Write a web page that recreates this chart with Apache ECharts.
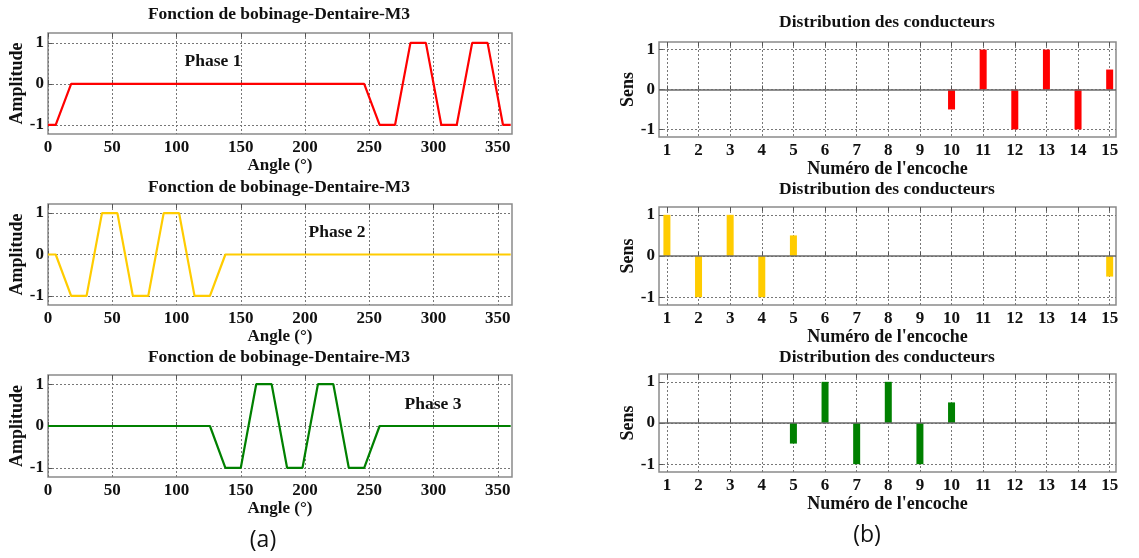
<!DOCTYPE html>
<html>
<head>
<meta charset="utf-8">
<script src="https://cdn.jsdelivr.net/npm/echarts@6/dist/echarts.min.js"></script>
<style>
html,body{margin:0;padding:0;background:#fff;}
#c{width:1139px;height:558px;}
</style>
</head>
<body>
<div id="c"></div>
<script>
// ---- data ----
const angles1 = [0, 6, 18, 246, 258, 270, 282, 294, 306, 318, 330, 342, 354, 360];
const amp1    = [-1, -1, 0, 0, -1, -1, 1, 1, -1, -1, 1, 1, -1, -1];
const angles2 = [0, 6, 18, 30, 42, 54, 66, 78, 90, 102, 114, 126, 138, 360];
const amp2    = [0, 0, -1, -1, 1, 1, -1, -1, 1, 1, -1, -1, 0, 0];
const angles3 = [0, 126, 138, 150, 162, 174, 186, 198, 210, 222, 234, 246, 258, 360];
const amp3    = [0, 0, -1, -1, 1, 1, -1, -1, 1, 1, -1, -1, 0, 0];

const slots = [1, 2, 3, 4, 5, 6, 7, 8, 9, 10, 11, 12, 13, 14, 15];
const sens1 = [0, 0, 0, 0, 0, 0, 0, 0, 0, -0.5, 1, -1, 1, -1, 0.5];
const sens2 = [1, -1, 1, -1, 0.5, 0, 0, 0, 0, 0, 0, 0, 0, 0, -0.5];
const sens3 = [0, 0, 0, 0, -0.5, 1, -1, 1, -1, 0.5, 0, 0, 0, 0, 0];

const angleTicks = [0, 50, 100, 150, 200, 250, 300, 350];
const ampTicks = [-1, 0, 1];
const slotTicks = slots;

const phaseNames = ['Phase 1', 'Phase 2', 'Phase 3'];
const colors = ['#ff0000', '#ffcc00', '#008000'];
const leftTitle = 'Fonction de bobinage-Dentaire-M3';
const rightTitle = 'Distribution des conducteurs';

// ---- layout ----
const FONT = '"Liberation Serif", "DejaVu Serif", serif';
const leftGrids = [
  {left: 48, width: 464, top: 33, height: 101},
  {left: 48, width: 464, top: 204, height: 101},
  {left: 48, width: 464, top: 375, height: 102}
];
const rightGrids = [
  {left: 659, width: 457, top: 42, height: 95},
  {left: 659, width: 457, top: 207, height: 98},
  {left: 659, width: 457, top: 374, height: 98}
];
const leftTitleCenters = [14.5, 187, 357];
const rightTitleCenters = [22.5, 189, 357];
const phasePos = [[213, 61], [337, 232], [433, 404]];
const TITLE_SIZE = 17.5, PHASE_SIZE = 17.5, SUB_SIZE = 23;

const gridStyle = {show: true, borderColor: '#8a8a8a', borderWidth: 1.5, backgroundColor: '#fff'};
const split = {show: true, lineStyle: {type: [2, 2], color: '#777', width: 1}};
const tick = {show: true, inside: true, length: 4, lineStyle: {color: '#555', width: 1}};
const lbl = {fontFamily: FONT, fontWeight: 'bold', fontSize: 17, color: '#111'};

const grids = [], xAxes = [], yAxes = [], series = [], titles = [];

function pairs(xs, ys) { return xs.map((x, i) => [x, ys[i]]); }
function topAxis(gi, min, max, ticks) {
  return {
    type: 'value', gridIndex: gi, position: 'top', min: min, max: max,
    axisLine: {show: false},
    axisTick: Object.assign({customValues: ticks}, tick),
    axisLabel: {show: false}, splitLine: {show: false}
  };
}

const angleData = [[angles1, amp1], [angles2, amp2], [angles3, amp3]];
const sensData = [sens1, sens2, sens3];

for (let i = 0; i < 3; i++) {
  // left
  grids.push(Object.assign({}, leftGrids[i], gridStyle));
  const gi = grids.length - 1;
  const xi = xAxes.length;
  xAxes.push({
    type: 'value', gridIndex: gi, min: 0, max: 361,
    axisLine: {show: false},
    axisTick: Object.assign({customValues: angleTicks}, tick),
    axisLabel: Object.assign({customValues: angleTicks, margin: 5}, lbl),
    splitLine: split,
    name: 'Angle (°)', nameLocation: 'middle', nameGap: 21,
    nameTextStyle: {fontFamily: FONT, fontWeight: 'bold', fontSize: 17, color: '#111'}
  });
  xAxes.push(topAxis(gi, 0, 361, angleTicks));
  const yMin = [-1.22, -1.22, -1.22][i], yMax = [1.24, 1.22, 1.22][i];
  yAxes.push({
    type: 'value', gridIndex: gi, min: yMin, max: yMax,
    axisLine: {show: false},
    axisTick: Object.assign({customValues: ampTicks}, tick),
    axisLabel: Object.assign({customValues: ampTicks, margin: 4}, lbl),
    splitLine: split,
    name: 'Amplitude', nameLocation: 'middle', nameGap: 19, nameRotate: 90,
    nameTextStyle: {fontFamily: FONT, fontWeight: 'bold', fontSize: 18, color: '#111'}
  });
  series.push({
    type: 'line', xAxisIndex: xi, yAxisIndex: gi,
    data: pairs(angleData[i][0], angleData[i][1]),
    showSymbol: false, symbol: 'none',
    lineStyle: {color: colors[i], width: 2.2}, itemStyle: {color: colors[i]},
    animation: false, z: 3
  });
  titles.push({
    text: leftTitle, left: 279, top: leftTitleCenters[i] - TITLE_SIZE / 2, textAlign: 'center', padding: 0,
    textStyle: {fontFamily: FONT, fontWeight: 'bold', fontSize: TITLE_SIZE, color: '#111'}
  });
  titles.push({
    text: phaseNames[i], left: phasePos[i][0], top: phasePos[i][1] - PHASE_SIZE / 2, textAlign: 'center', padding: 0,
    textStyle: {fontFamily: FONT, fontWeight: 'bold', fontSize: PHASE_SIZE, color: '#111'}
  });

  // right
  grids.push(Object.assign({}, rightGrids[i], gridStyle));
  const gj = grids.length - 1;
  const xj = xAxes.length;
  xAxes.push({
    type: 'value', gridIndex: gj, min: 0.75, max: 15.2,
    axisLine: {show: false},
    axisTick: Object.assign({customValues: slotTicks}, tick),
    axisLabel: Object.assign({customValues: slotTicks, margin: 5}, lbl),
    splitLine: split,
    name: "Numéro de l'encoche", nameLocation: 'middle', nameGap: 21,
    nameTextStyle: {fontFamily: FONT, fontWeight: 'bold', fontSize: 18, color: '#111'}
  });
  xAxes.push(topAxis(gj, 0.75, 15.2, slotTicks));
  yAxes.push({
    type: 'value', gridIndex: gj, min: -1.19, max: 1.19,
    axisLine: {show: false},
    axisTick: Object.assign({customValues: ampTicks}, tick),
    axisLabel: Object.assign({customValues: ampTicks, margin: 4}, lbl),
    splitLine: split,
    name: 'Sens', nameLocation: 'middle', nameGap: 19, nameRotate: 90,
    nameTextStyle: {fontFamily: FONT, fontWeight: 'bold', fontSize: 18, color: '#111'}
  });
  series.push({
    type: 'bar', xAxisIndex: xj, yAxisIndex: gj,
    data: pairs(slots, sensData[i]),
    barWidth: 7, itemStyle: {color: colors[i]},
    animation: false, z: 3,
    markLine: {
      silent: true, symbol: 'none', label: {show: false},
      lineStyle: {type: 'solid', color: '#6a6a6a', width: 1.5},
      data: [{yAxis: 0}], animation: false
    }
  });
  titles.push({
    text: rightTitle, left: 887, top: rightTitleCenters[i] - TITLE_SIZE / 2, textAlign: 'center', padding: 0,
    textStyle: {fontFamily: FONT, fontWeight: 'bold', fontSize: TITLE_SIZE, color: '#111'}
  });
}

titles.push({text: '(a)', left: 263, top: 540 - SUB_SIZE / 2, textAlign: 'center', padding: 0,
  textStyle: {fontFamily: '"Open Sans", "Noto Sans", sans-serif', fontWeight: 'normal', fontSize: SUB_SIZE, color: '#111'}});
titles.push({text: '(b)', left: 867, top: 535 - SUB_SIZE / 2, textAlign: 'center', padding: 0,
  textStyle: {fontFamily: '"Open Sans", "Noto Sans", sans-serif', fontWeight: 'normal', fontSize: SUB_SIZE, color: '#111'}});

const chart = echarts.init(document.getElementById('c'), null, {renderer: 'canvas'});
chart.setOption({
  backgroundColor: '#fff',
  animation: false,
  title: titles,
  grid: grids,
  xAxis: xAxes,
  yAxis: yAxes,
  series: series
});
</script>
</body>
</html>
